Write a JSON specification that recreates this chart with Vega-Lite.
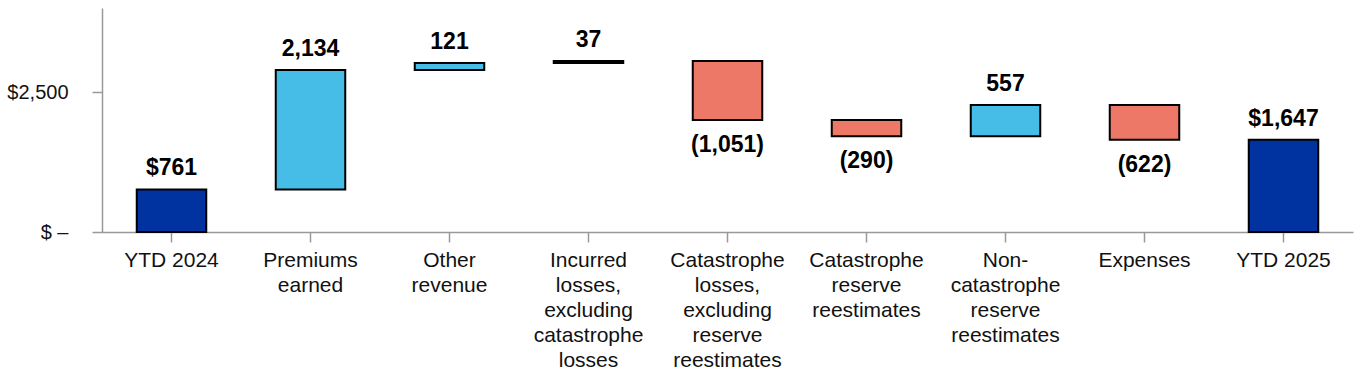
{
  "$schema": "https://vega.github.io/schema/vega-lite/v6.json",
  "autosize": "none",
  "width": 1251,
  "height": 224,
  "padding": {"left": 102, "top": 8, "right": 9, "bottom": 152},
  "background": "white",
  "config": {
    "font": "Liberation Sans",
    "view": {"stroke": null}
  },
  "data": {
    "values": [
      {"cat": "YTD 2024", "order": 1, "start": 0, "end": 761, "kind": "total", "label": "$761"},
      {"cat": "Premiums earned", "order": 2, "start": 761, "end": 2895, "kind": "up", "label": "2,134"},
      {"cat": "Other revenue", "order": 3, "start": 2895, "end": 3016, "kind": "up", "label": "121"},
      {"cat": "Incurred losses, excluding catastrophe losses", "order": 4, "start": 3016, "end": 3053, "kind": "up", "label": "37"},
      {"cat": "Catastrophe losses, excluding reserve reestimates", "order": 5, "start": 3053, "end": 2002, "kind": "down", "label": "(1,051)"},
      {"cat": "Catastrophe reserve reestimates", "order": 6, "start": 2002, "end": 1712, "kind": "down", "label": "(290)"},
      {"cat": "Non-catastrophe reserve reestimates", "order": 7, "start": 1712, "end": 2269, "kind": "up", "label": "557"},
      {"cat": "Expenses", "order": 8, "start": 2269, "end": 1647, "kind": "down", "label": "(622)"},
      {"cat": "YTD 2025", "order": 9, "start": 0, "end": 1647, "kind": "total", "label": "$1,647"}
    ]
  },
  "encoding": {
    "x": {
      "field": "cat",
      "type": "nominal",
      "sort": {"field": "order"},
      "scale": {"paddingInner": 0.5, "paddingOuter": 0.25},
      "axis": {
        "title": null,
        "labelAngle": 0,
        "labelFontSize": 21,
        "labelColor": "#111",
        "labelLineHeight": 25,
        "labelPadding": 7,
        "tickSize": 10,
        "tickColor": "#999",
        "tickWidth": 1.5,
        "domainColor": "#999",
        "domainWidth": 1.5,
        "labelLimit": 200,
        "labelExpr": "datum.label == 'YTD 2024' ? 'YTD 2024' : datum.label == 'Premiums earned' ? ['Premiums', 'earned'] : datum.label == 'Other revenue' ? ['Other', 'revenue'] : datum.label == 'Incurred losses, excluding catastrophe losses' ? ['Incurred', 'losses,', 'excluding', 'catastrophe', 'losses'] : datum.label == 'Catastrophe losses, excluding reserve reestimates' ? ['Catastrophe', 'losses,', 'excluding', 'reserve', 'reestimates'] : datum.label == 'Catastrophe reserve reestimates' ? ['Catastrophe', 'reserve', 'reestimates'] : datum.label == 'Non-catastrophe reserve reestimates' ? ['Non-', 'catastrophe', 'reserve', 'reestimates'] : datum.label"
      }
    }
  },
  "layer": [
    {
      "mark": {"type": "bar", "stroke": "#000", "strokeWidth": 2},
      "encoding": {
        "y": {
          "field": "start",
          "type": "quantitative",
          "scale": {"domain": [0, 4000], "nice": false},
          "axis": {
            "title": null,
            "values": [0, 2500],
            "grid": false,
            "labelFontSize": 20,
            "labelColor": "#111",
            "labelPadding": 24,
            "tickSize": 10,
            "tickColor": "#999",
            "tickWidth": 1.5,
            "domainColor": "#999",
            "domainWidth": 1.5,
            "labelExpr": "datum.value == 0 ? '$ –' : '$' + format(datum.value, ',')"
          }
        },
        "y2": {"field": "end"},
        "color": {
          "field": "kind",
          "type": "nominal",
          "scale": {"domain": ["total", "up", "down"], "range": ["#0033A0", "#45BDE6", "#EE7868"]},
          "legend": null
        }
      }
    },
    {
      "transform": [{"filter": "datum.kind != 'down'"}],
      "mark": {"type": "text", "fontSize": 23, "fontWeight": "bold", "baseline": "middle", "dy": -21, "color": "#000"},
      "encoding": {
        "y": {"field": "end", "type": "quantitative"},
        "text": {"field": "label"}
      }
    },
    {
      "transform": [{"filter": "datum.kind == 'down'"}],
      "mark": {"type": "text", "fontSize": 23, "fontWeight": "bold", "baseline": "middle", "dy": 25, "color": "#000"},
      "encoding": {
        "y": {"field": "end", "type": "quantitative"},
        "text": {"field": "label"}
      }
    }
  ]
}
